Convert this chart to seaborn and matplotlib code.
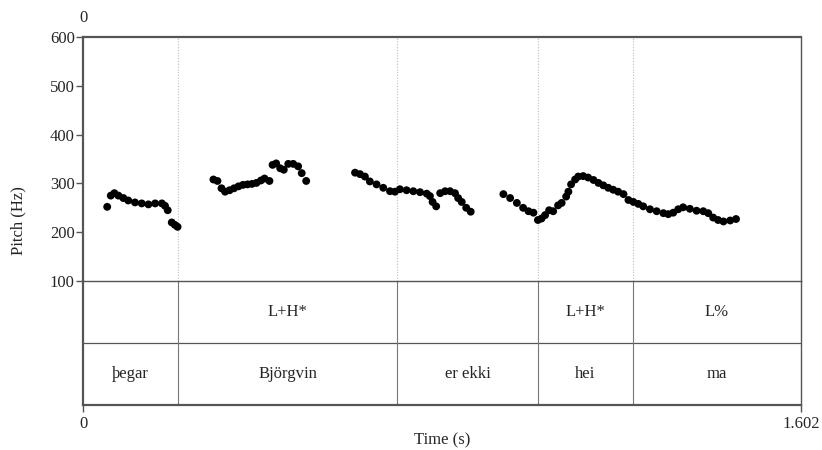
import matplotlib
matplotlib.use("Agg")
import matplotlib.pyplot as plt
import pandas as pd
import seaborn as sns

# pitch track (time in s, F0 in Hz)
seg_pegar_t = [0.054, 0.062, 0.070, 0.079, 0.090, 0.101, 0.116, 0.131, 0.146, 0.161,
               0.176, 0.183, 0.189, 0.198, 0.205, 0.211]
seg_pegar_hz = [252, 275, 280, 275, 270, 265, 261, 259, 257, 259,
                259, 254, 245, 220, 215, 211]

seg_bjorg_t = [0.291, 0.300, 0.309, 0.317, 0.327, 0.337, 0.347, 0.357, 0.367, 0.377,
               0.387, 0.397, 0.405, 0.416, 0.423, 0.431, 0.440, 0.448, 0.458, 0.469,
               0.480, 0.488, 0.498]
seg_bjorg_hz = [308, 305, 290, 283, 286, 290, 294, 297, 298, 299,
                301, 306, 310, 305, 338, 341, 331, 328, 340, 340,
                335, 321, 305]

seg_erekki_t = [0.607, 0.618, 0.629, 0.640, 0.655, 0.670, 0.685, 0.696, 0.707, 0.722,
                0.737, 0.752, 0.767, 0.774, 0.780, 0.788, 0.797, 0.808, 0.819, 0.830,
                0.837, 0.845, 0.855, 0.865]
seg_erekki_hz = [322, 319, 314, 304, 298, 291, 284, 283, 288, 286,
                 284, 282, 279, 274, 262, 253, 280, 284, 284, 280,
                 270, 262, 250, 242]

seg_heima_t = [0.938, 0.953, 0.968, 0.982, 0.994, 1.005, 1.015, 1.023, 1.031, 1.040,
               1.049, 1.060, 1.068, 1.078, 1.083, 1.089, 1.098, 1.105, 1.116, 1.127,
               1.139, 1.150, 1.161, 1.172, 1.183, 1.194, 1.206, 1.217, 1.228, 1.239,
               1.250, 1.265, 1.280, 1.295, 1.306, 1.317, 1.328, 1.339, 1.354, 1.369,
               1.384, 1.395, 1.406, 1.417, 1.429, 1.444, 1.457]
seg_heima_hz = [278, 270, 260, 250, 243, 240, 225, 228, 235, 245,
                243, 255, 260, 273, 283, 298, 308, 314, 315, 312,
                307, 301, 296, 291, 287, 283, 278, 266, 262, 258,
                253, 247, 243, 239, 237, 240, 247, 251, 248, 244,
                243, 239, 230, 225, 222, 224, 227]

# TextGrid tiers
total_dur = 1.602
boundaries = [0.212, 0.7006, 1.015, 1.227]
tone_labels = ["", "L+H*", "", "L+H*", "L%"]
word_labels = ["þegar", "Björgvin", "er ekki", "hei", "ma"]

sns.set_style("white")
plt.rcParams["font.family"] = ["Liberation Serif", "DejaVu Serif"]
plt.rcParams["font.size"] = 12

pitch = pd.DataFrame({
    "time": seg_pegar_t + seg_bjorg_t + seg_erekki_t + seg_heima_t,
    "f0": seg_pegar_hz + seg_bjorg_hz + seg_erekki_hz + seg_heima_hz,
})

line_col = "#555555"
fig = plt.figure(figsize=(8.22, 4.5), dpi=100)
left, right = 83 / 822, 801 / 822
tg = fig.add_axes([left, 1 - 405 / 450, right - left, (405 - 281) / 450])
ax = fig.add_axes([left, 1 - 281 / 450, right - left, (281 - 37) / 450])
ax.set_facecolor("none")
tg.set_facecolor("none")

sns.scatterplot(data=pitch, x="time", y="f0", ax=ax, color="black",
                s=32, edgecolor="none", legend=False, zorder=3)
for b in boundaries:
    ax.axvline(b, color="#bbbbbb", lw=0.8, ls=(0, (1, 1.5)), zorder=1)
ax.set_xlim(0, total_dur)
ax.set_ylim(100, 600)
ax.set_yticks([100, 200, 300, 400, 500, 600])
ax.set_xticks([])
ax.set_xlabel("")
ax.set_ylabel("")
ax.tick_params(axis="y", direction="out", length=5, width=1, color=line_col,
               labelsize=12, pad=1, left=True)
for side, sp in ax.spines.items():
    sp.set_color(line_col)
    sp.set_linewidth(1.0)
ax.spines["top"].set_linewidth(1.6)
ax.spines["left"].set_linewidth(1.6)
ax.spines["bottom"].set_linewidth(1.0)

# tiers
tg.set_xlim(0, total_dur)
tg.set_ylim(0, 2)
tg.axhline(1, color=line_col, lw=0.9)
for b in boundaries:
    tg.axvline(b, color="#777777", lw=0.8)
edges = [0.0] + boundaries + [total_dur]
for i in range(len(edges) - 1):
    mid = (edges[i] + edges[i + 1]) / 2
    if tone_labels[i]:
        tg.text(mid, 1.5, tone_labels[i], ha="center", va="center", fontsize=12)
    tg.text(mid, 0.5, word_labels[i], ha="center", va="center", fontsize=12)
tg.set_yticks([])
tg.set_xticks([0, total_dur])
tg.set_xticklabels(["0", "1.602"])
tg.tick_params(axis="x", direction="out", length=5, width=1, color=line_col,
               labelsize=12, pad=3, bottom=True)
for side, sp in tg.spines.items():
    sp.set_color(line_col)
    sp.set_linewidth(1.0)
tg.spines["top"].set_visible(False)
tg.spines["left"].set_linewidth(1.6)
tg.spines["bottom"].set_linewidth(1.6)

fig.text(left, 1 - 18 / 450, "0", ha="center", va="center", fontsize=12)
fig.text(18 / 822, 1 - 221 / 450, "Pitch (Hz)", rotation=90, ha="center",
         va="center", fontsize=12)
fig.text((left + right) / 2, 1 - 440 / 450, "Time (s)", ha="center",
         va="center", fontsize=12)

fig.savefig("out.png", dpi=100)
